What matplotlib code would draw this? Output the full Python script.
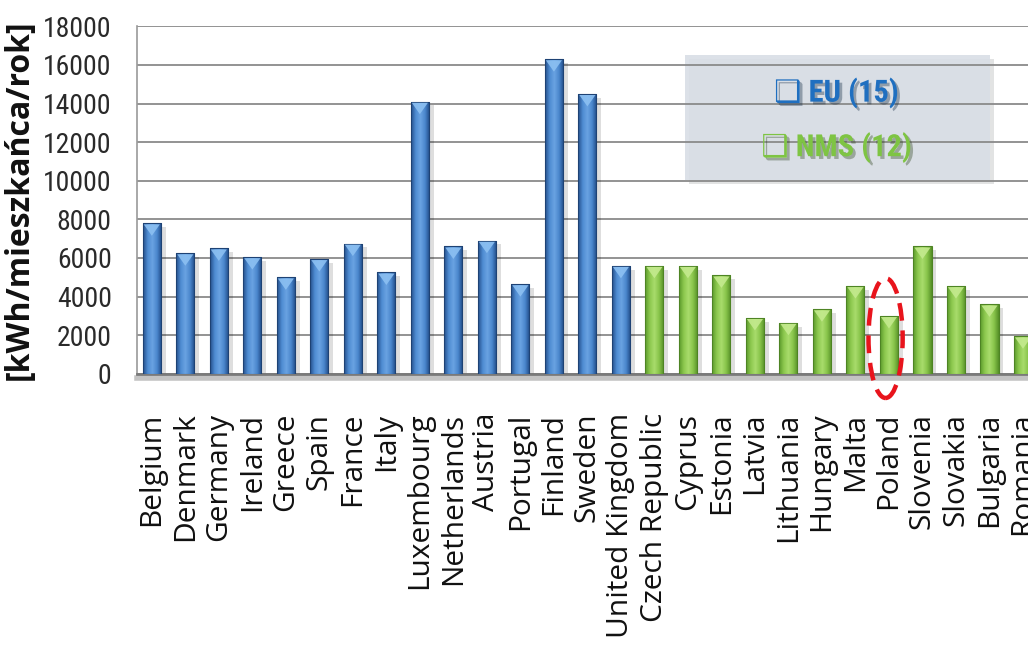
import numpy as np
import matplotlib
matplotlib.use('Agg')
import matplotlib.pyplot as plt
from matplotlib import font_manager
from matplotlib.colors import LinearSegmentedColormap
from matplotlib.patches import Rectangle, Polygon, Ellipse
import matplotlib.patheffects as pe

# ------------ dane ------------
kraje_eu = ['Belgium', 'Denmark', 'Germany', 'Ireland', 'Greece', 'Spain', 'France',
            'Italy', 'Luxembourg', 'Netherlands', 'Austria', 'Portugal', 'Finland',
            'Sweden', 'United Kingdom']
zuzycie_eu = [7800, 6250, 6500, 6050, 5000, 5950, 6750,
              5250, 14100, 6600, 6900, 4650, 16300,
              14500, 5600]

kraje_nms = ['Czech Republic', 'Cyprus', 'Estonia', 'Latvia', 'Lithuania', 'Hungary',
             'Malta', 'Poland', 'Slovenia', 'Slovakia', 'Bulgaria', 'Romania']
zuzycie_nms = [5600, 5600, 5100, 2900, 2650, 3350,
               4550, 3000, 6600, 4550, 3600, 1950]

y_ticks = [0, 2000, 4000, 6000, 8000, 10000, 12000, 14000, 16000, 18000]
wyrozniony = 'Poland'

# ------------ czcionki ------------
dostepne = {f.name for f in font_manager.fontManager.ttflist}
def wybierz(kandydaci):
    for k in kandydaci:
        if k in dostepne:
            return k
    return 'DejaVu Sans'

f_ticks = wybierz(['Liberation Sans Narrow', 'Roboto Condensed', 'DejaVu Sans Condensed', 'Liberation Sans'])
f_labels = wybierz(['Open Sans', 'Noto Sans', 'DejaVu Sans'])
f_leg = wybierz(['Liberation Sans Narrow', 'Roboto Condensed', 'Liberation Sans'])

# ------------ wykres ------------
kraje = kraje_eu + kraje_nms
wartosci = zuzycie_eu + zuzycie_nms
x = np.arange(len(kraje))
szer = 0.54

fig = plt.figure(figsize=(10.28, 6.57), dpi=100)
ax = fig.add_axes([0.133, 0.431, 0.867, 0.529])

cm_blue = LinearSegmentedColormap.from_list('b', ['#25508C', '#4F8CD2', '#6AA3E2', '#4A86CC', '#1F4A85'])
cm_green = LinearSegmentedColormap.from_list('g', ['#5C9A2C', '#8CC84E', '#A9DC6C', '#88C44A', '#568F28'])
grad = np.linspace(0, 1, 64).reshape(1, -1)

for i, (xi, v) in enumerate(zip(x, wartosci)):
    eu = i < len(kraje_eu)
    cmap = cm_blue if eu else cm_green
    # cien
    ax.add_patch(Rectangle((xi - szer / 2 + 0.14, 0), szer, v - 200,
                           facecolor='#000000', alpha=0.13, edgecolor='none', zorder=2))
    bar = ax.bar(xi, v, width=szer, color='none',
                 edgecolor='#1E4274' if eu else '#4E8424', linewidth=0.8, zorder=4)[0]
    im = ax.imshow(grad, cmap=cmap, aspect='auto', zorder=3,
                   extent=(xi - szer / 2, xi + szer / 2, 0, v))
    im.set_clip_path(bar)
    # jasny trojkat na gorze slupka
    ax.add_patch(Polygon([(xi - szer / 2 + 0.03, v - 60), (xi + szer / 2 - 0.03, v - 60),
                          (xi, v - 650)], closed=True,
                         facecolor='#8CC0F2' if eu else '#C4EA8E', edgecolor='none',
                         alpha=0.9, zorder=5))

# elipsa wokol Polski
ip = kraje.index(wyrozniony)
ax.add_patch(Ellipse((ip - 0.1, 1850), 1.02, 6200, angle=0, fill=False,
                     edgecolor='#E8141C', linewidth=3.2, linestyle=(0, (4, 2.2)),
                     clip_on=False, zorder=6))

ax.set_xlim(-0.45, 26.15)
ax.set_ylim(0, 18000)
ax.set_yticks(y_ticks)
ax.set_yticklabels([str(t) for t in y_ticks], fontsize=20, family=f_ticks, color='#2A2A2A')
ax.set_xticks(x)
ax.set_xticklabels(kraje, rotation=90, fontsize=21.5, family=f_labels, color='#111111',
                   va='top', ha='center')
ax.tick_params(axis='both', length=0)
ax.tick_params(axis='x', pad=28)
ax.tick_params(axis='y', pad=18)

ax.grid(axis='y', color='#8A8A8A', linewidth=1.3, zorder=1)
ax.set_axisbelow(True)
for s in ['top', 'right']:
    ax.spines[s].set_visible(False)
ax.spines['left'].set_color('#9A9A9A')
ax.spines['left'].set_linewidth(1.2)
ax.spines['bottom'].set_color('#7A7A7A')
ax.spines['bottom'].set_linewidth(2.0)
ax.spines['bottom'].set_path_effects([pe.SimpleLineShadow(offset=(0, -3), shadow_color='#888888', alpha=0.5, linewidth=4), pe.Normal()])

ax.set_ylabel('[kWh/mieszkańca/rok]', fontsize=23, fontweight='bold', family=f_labels, color='#111111')
ax.yaxis.set_label_coords(-0.113, 0.5)

# legenda
ax.add_patch(Rectangle((0.615, 0.557), 0.342, 0.36, transform=ax.transAxes,
                       facecolor='#D9DEE6', edgecolor='none', alpha=0.9, zorder=0.5,
                       path_effects=[pe.SimplePatchShadow(offset=(3, -3), alpha=0.15), pe.Normal()]))
cien = [pe.SimplePatchShadow(offset=(2, -2), alpha=0.35), pe.Normal()]
ax.text(0.785, 0.809, '\u2751 EU (15)', transform=ax.transAxes, ha='center', va='center',
        fontsize=22, fontweight='bold', color='#1F6FC0', family=[f_leg, 'DejaVu Sans'],
        path_effects=cien, zorder=7)
ax.text(0.785, 0.652, '\u2751 NMS (12)', transform=ax.transAxes, ha='center', va='center',
        fontsize=22, fontweight='bold', color='#7EC443', family=[f_leg, 'DejaVu Sans'],
        path_effects=cien, zorder=7)

plt.savefig('out.png', dpi=100)
plt.clf()
